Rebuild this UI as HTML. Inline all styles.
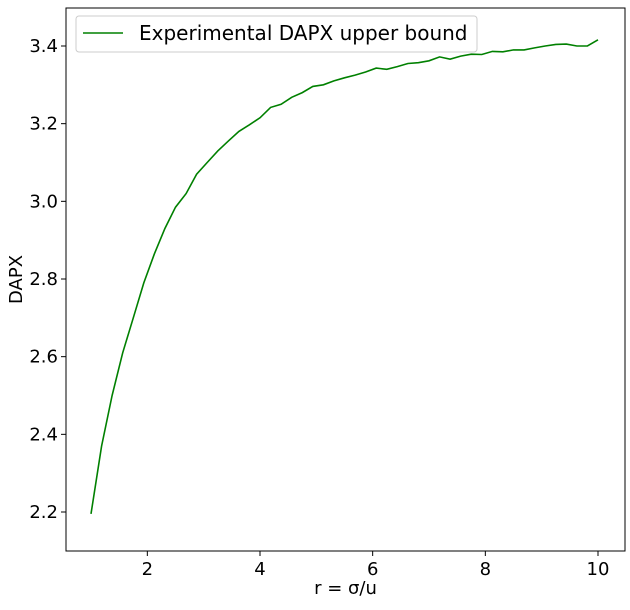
<!DOCTYPE html>
<html><head><meta charset="utf-8"><style>body{margin:0;background:#fff}svg text{font-family:"DejaVu Sans","Liberation Sans",sans-serif}</style></head>
<body>
<svg id="chart" width="630" height="605" xmlns="http://www.w3.org/2000/svg"></svg>
<script>
const xStart = 1, xStep = 0.1875;
const dapx = [2.195,2.37,2.50,2.61,2.70,2.79,2.865,2.93,2.985,3.02,3.07,3.10,3.13,3.155,3.18,3.197,3.215,3.242,3.25,3.268,3.28,3.296,3.30,3.31,3.318,3.325,3.333,3.343,3.34,3.347,3.355,3.357,3.362,3.372,3.366,3.374,3.379,3.378,3.386,3.385,3.39,3.39,3.395,3.40,3.404,3.405,3.40,3.40,3.416];
const xTicks = [2,4,6,8,10];
const yTicks = [2.2,2.4,2.6,2.8,3.0,3.2,3.4];
const NS='http://www.w3.org/2000/svg';
const svg=document.getElementById('chart');
const L=66,R=625,T=8,B=551;
const sx=v=>91+(v-1)*(598-91)/9;
const sy=v=>512-(v-2.2)*(512-46)/1.2;
function mk(t,a,txt){const e=document.createElementNS(NS,t);for(const k in a)e.setAttribute(k,a[k]);if(txt!=null)e.textContent=txt;svg.appendChild(e);return e;}
const frame=mk('rect',{x:L,y:T,width:R-L,height:B-T,fill:'none',stroke:'#000','stroke-width':1});


xTicks.forEach(v=>{
  const x=sx(v);
  const t=mk('line',{x1:x,x2:x,y1:B,y2:B+5,stroke:'#000'});
  
  
  const l=mk('text',{x:x,y:B+24,'text-anchor':'middle','font-size':18},String(v));
  
  
});
yTicks.forEach(v=>{
  const y=sy(v);
  const t=mk('line',{x1:L-5,x2:L,y1:y,y2:y,stroke:'#000'});
  
  
  const l=mk('text',{x:L-8,y:y+6,'text-anchor':'end','font-size':18},v.toFixed(1));
  
  
});
const pts=dapx.map((v,i)=>sx(xStart+i*xStep).toFixed(1)+','+sy(v).toFixed(1)).join(' ');
const line=mk('polyline',{points:pts,fill:'none',stroke:'#008000','stroke-width':1.6});


const xt=mk('text',{x:(L+R)/2,y:594,'text-anchor':'middle','font-size':18},'r = σ/u');


const yt=mk('text',{x:22,y:(T+B)/2,'text-anchor':'middle','font-size':18,transform:'rotate(-90 22 '+((T+B)/2)+')'},'DAPX');


const lg=mk('rect',{x:76,y:16,width:401,height:36,rx:3,fill:'#fff',stroke:'#ccc'});


const ll=mk('line',{x1:83,x2:123,y1:33,y2:33,stroke:'#008000','stroke-width':1.6});


const lt=mk('text',{x:139,y:40,'font-size':20},'Experimental DAPX upper bound');


</script>
</body></html>
